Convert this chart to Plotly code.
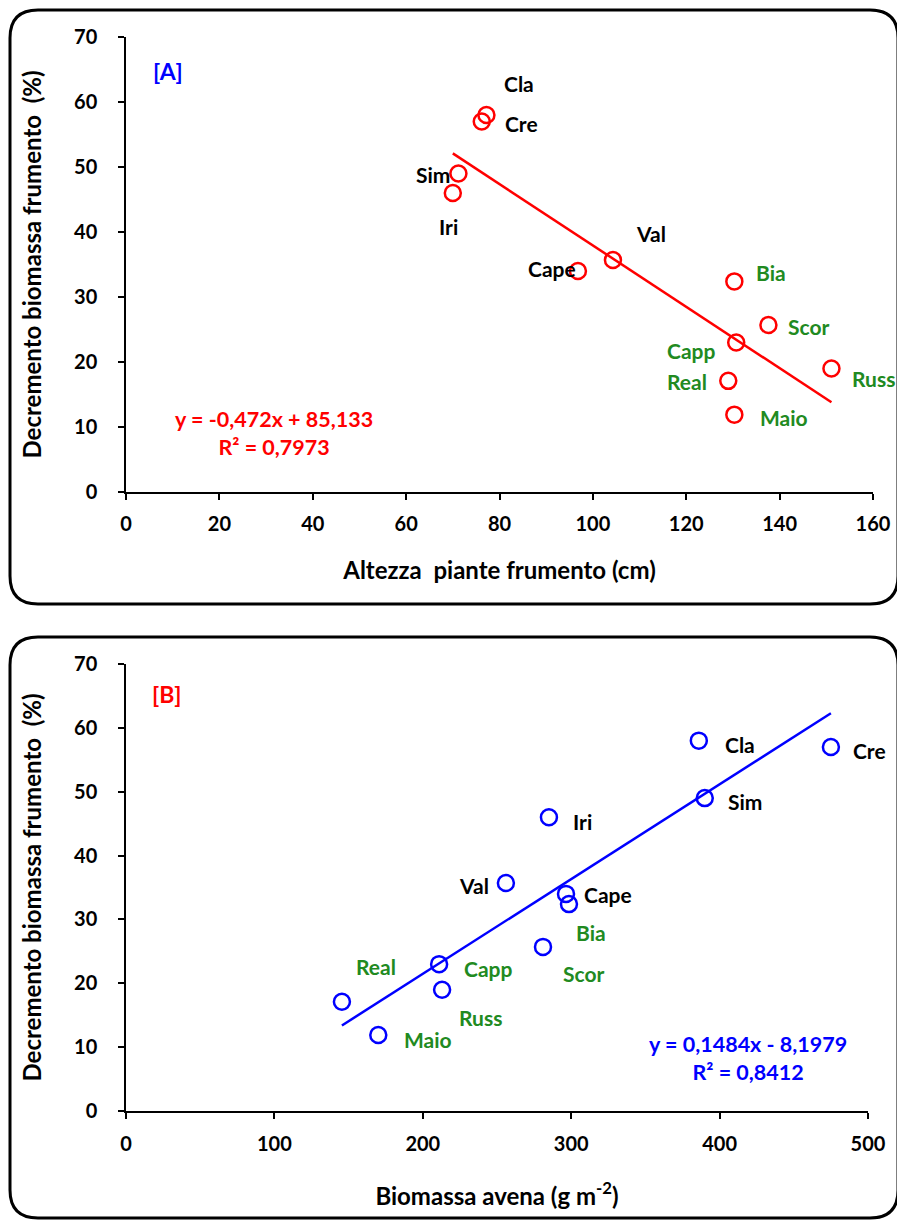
import plotly.graph_objects as go

W, H = 897, 1220

# ---------------- data ----------------
names = ["Cla", "Cre", "Sim", "Iri", "Cape", "Val", "Bia", "Scor", "Capp", "Real", "Maio", "Russ"]
groups = ["k", "k", "k", "k", "k", "k", "g", "g", "g", "g", "g", "g"]
decremento = [58.0, 57.0, 49.0, 46.0, 34.0, 35.7, 32.4, 25.7, 23.0, 17.1, 11.9, 19.0]
altezza = [77.2, 76.2, 71.2, 70.0, 96.8, 104.3, 130.3, 137.6, 130.7, 129.0, 130.3, 151.1]
biomassa_avena = [386, 475, 390, 285, 296.5, 256, 298.5, 281, 211, 145.5, 170, 213]

# regression coefficients as printed on the chart
slope_a, icpt_a, r2_a = -0.472, 85.133, 0.7973
slope_b, icpt_b, r2_b = 0.1484, -8.1979, 0.8412

x_ticks_a = [0, 20, 40, 60, 80, 100, 120, 140, 160]
x_ticks_b = [0, 100, 200, 300, 400, 500]
y_ticks = [0, 10, 20, 30, 40, 50, 60, 70]

# label offsets in pixels (dx right, dy down)
offs_a = {"Cla": (33, -31), "Cre": (40, 2), "Sim": (-25, 1), "Iri": (-4, 34),
          "Cape": (-26, -2), "Val": (38, -26), "Bia": (37, -9), "Scor": (40, 2),
          "Capp": (-45, 8), "Real": (-41, 1), "Maio": (50, 3), "Russ": (42, 10)}
offs_b = {"Cla": (41, 4), "Cre": (39, 3), "Sim": (40, 3), "Iri": (34, 4),
          "Cape": (42, 1), "Val": (-32, 2), "Bia": (22, 28), "Scor": (40, 27),
          "Capp": (49, 4), "Russ": (38, 28), "Real": (34, -35), "Maio": (50, 4)}

RED = "#FF0000"
BLUE = "#0000FF"
GREEN = "#218A21"
FONT = "Lato"
col = {"k": "#000000", "g": GREEN}


def px(x):
    return x / W


def py(y):
    return 1 - y / H


fig = go.Figure()

# Panel A
fig.add_trace(go.Scatter(x=altezza, y=decremento, mode="markers",
                         marker=dict(symbol="circle-open", size=16, color=RED, line=dict(width=2.5, color=RED)),
                         xaxis="x", yaxis="y", showlegend=False))
xa = [min(altezza), max(altezza)]
fig.add_trace(go.Scatter(x=xa, y=[slope_a * v + icpt_a for v in xa], mode="lines",
                         line=dict(color=RED, width=2.5), xaxis="x", yaxis="y", showlegend=False))

# Panel B
fig.add_trace(go.Scatter(x=biomassa_avena, y=decremento, mode="markers",
                         marker=dict(symbol="circle-open", size=16, color=BLUE, line=dict(width=2.5, color=BLUE)),
                         xaxis="x2", yaxis="y2", showlegend=False))
xb = [min(biomassa_avena), max(biomassa_avena)]
fig.add_trace(go.Scatter(x=xb, y=[slope_b * v + icpt_b for v in xb], mode="lines",
                         line=dict(color=BLUE, width=2.5), xaxis="x2", yaxis="y2", showlegend=False))

LBL = 21
ann = []
for n, g, xv, bv, yv in zip(names, groups, altezza, biomassa_avena, decremento):
    dx, dy = offs_a[n]
    ann.append(dict(x=xv, y=yv, xref="x", yref="y", text=n, showarrow=False,
                    xshift=dx, yshift=-dy,
                    font=dict(family=FONT, size=LBL, color=col[g], weight="bold")))
    dx, dy = offs_b[n]
    ann.append(dict(x=bv, y=yv, xref="x2", yref="y2", text=n, showarrow=False,
                    xshift=dx, yshift=-dy,
                    font=dict(family=FONT, size=LBL, color=col[g], weight="bold")))


def fmt(v, d):
    return f"{v:.{d}f}".replace(".", ",")


eq_a = f"y = {fmt(slope_a, 3)}x + {fmt(icpt_a, 3)}<br>R² = {fmt(r2_a, 4)}"
eq_b = f"y = {fmt(slope_b, 4)}x - {fmt(-icpt_b, 4)}<br>R² = {fmt(r2_b, 4)}"
ann.append(dict(x=px(274), y=py(433), xref="paper", yref="paper", text=eq_a, showarrow=False,
                xanchor="center", yanchor="middle", align="center",
                font=dict(family=FONT, size=21.5, color=RED, weight="bold")))
ann.append(dict(x=px(748), y=py(1058), xref="paper", yref="paper", text=eq_b, showarrow=False,
                xanchor="center", yanchor="middle", align="center",
                font=dict(family=FONT, size=21.5, color=BLUE, weight="bold")))
ann.append(dict(x=px(168), y=py(71), xref="paper", yref="paper", text="[A]", showarrow=False,
                xanchor="center", yanchor="middle",
                font=dict(family=FONT, size=23, color=BLUE, weight="bold")))
ann.append(dict(x=px(166), y=py(694), xref="paper", yref="paper", text="[B]", showarrow=False,
                xanchor="center", yanchor="middle",
                font=dict(family=FONT, size=23, color=RED, weight="bold")))


def rounded(x0, y0, x1, y1, r):
    return (f"M {px(x0 + r)},{py(y0)} L {px(x1 - r)},{py(y0)} "
            f"Q {px(x1)},{py(y0)} {px(x1)},{py(y0 + r)} L {px(x1)},{py(y1 - r)} "
            f"Q {px(x1)},{py(y1)} {px(x1 - r)},{py(y1)} L {px(x0 + r)},{py(y1)} "
            f"Q {px(x0)},{py(y1)} {px(x0)},{py(y1 - r)} L {px(x0)},{py(y0 + r)} "
            f"Q {px(x0)},{py(y0)} {px(x0 + r)},{py(y0)} Z")


shapes = [
    dict(type="path", xref="paper", yref="paper", path=rounded(10, 10, 898, 604, 28),
         line=dict(color="black", width=3)),
    dict(type="path", xref="paper", yref="paper", path=rounded(10, 637, 898, 1218, 28),
         line=dict(color="black", width=3)),
]

tickfont = dict(family=FONT, size=20, color="black", weight="bold")
titlefont = dict(family=FONT, size=24, color="black", weight="bold")
common = dict(showgrid=False, zeroline=False, showline=True, linecolor="black", linewidth=1.5,
              ticks="outside", ticklen=6, tickwidth=1.5, tickcolor="black", tickfont=tickfont,
              automargin=False)

fig.update_layout(
    width=W, height=H, margin=dict(l=0, r=0, t=0, b=0, pad=0), autosize=False,
    plot_bgcolor="white", paper_bgcolor="white",
    xaxis=dict(domain=[px(126), px(873)], range=[0, 160], tickvals=x_ticks_a, anchor="y",
               ticklabelstandoff=7,
               title=dict(text="Altezza  piante frumento (cm)", font=titlefont, standoff=28), **common),
    yaxis=dict(domain=[py(492), py(37)], range=[0, 70], tickvals=y_ticks, anchor="x",
               ticklabelstandoff=17,
               title=dict(text="Decremento biomassa frumento  (%)", font=titlefont, standoff=26), **common),
    xaxis2=dict(domain=[px(126), px(868)], range=[0, 500], tickvals=x_ticks_b, anchor="y2",
                ticklabelstandoff=8,
                title=dict(text="Biomassa avena (g m<sup>-2</sup>)", font=titlefont, standoff=34), **common),
    yaxis2=dict(domain=[py(1111), py(664)], range=[0, 70], tickvals=y_ticks, anchor="x2",
                ticklabelstandoff=17,
                title=dict(text="Decremento biomassa frumento  (%)", font=titlefont, standoff=26), **common),
    annotations=ann, shapes=shapes,
)

fig.write_html("out.html")
